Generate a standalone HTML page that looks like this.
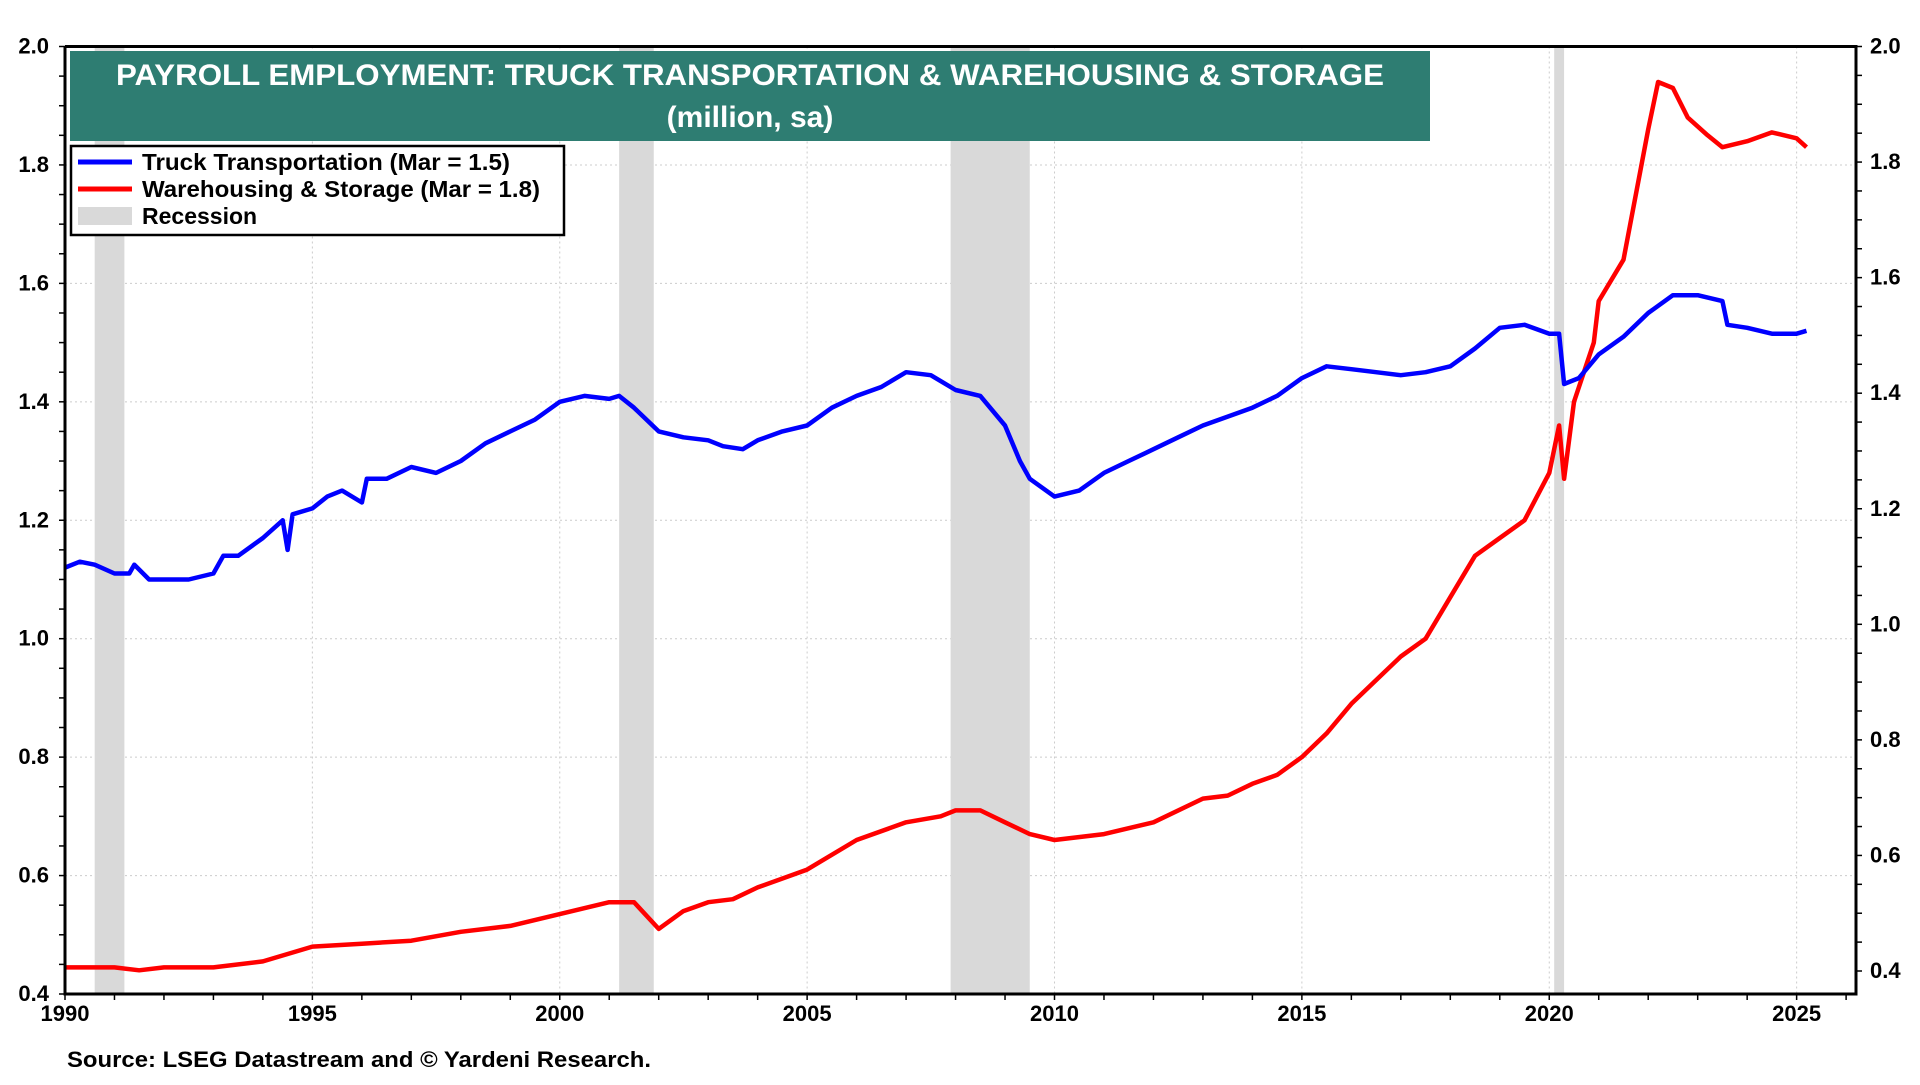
<!DOCTYPE html>
<html><head><meta charset="utf-8"><style>
html,body{margin:0;padding:0;background:#fff;}
svg text{font-family:"Liberation Sans",Arial,sans-serif;font-weight:bold;}
</style></head><body>
<svg id="chart" width="1920" height="1080" viewBox="0 0 1920 1080" xmlns="http://www.w3.org/2000/svg">
<g id="grid"></g>
<g id="recessions"></g>
<g id="series"></g>
<g id="axes"></g>
<rect x="70" y="51" width="1360" height="90" fill="#2e7d72"/>
<text x="750" y="85" text-anchor="middle" fill="#fff" font-size="30" textLength="1268" lengthAdjust="spacingAndGlyphs">PAYROLL EMPLOYMENT:  TRUCK TRANSPORTATION &amp; WAREHOUSING &amp; STORAGE</text>
<text x="750" y="127" text-anchor="middle" fill="#fff" font-size="30">(million, sa)</text>
<g>
<rect x="71" y="146" width="493" height="89" fill="#fff" stroke="#000" stroke-width="2.5"/>
<line x1="78" y1="162" x2="132" y2="162" stroke="#0000ff" stroke-width="5"/>
<text x="142" y="170" font-size="23" textLength="368" lengthAdjust="spacingAndGlyphs">Truck Transportation (Mar = 1.5)</text>
<line x1="78" y1="189" x2="132" y2="189" stroke="#ff0000" stroke-width="5"/>
<text x="142" y="197" font-size="23" textLength="398" lengthAdjust="spacingAndGlyphs">Warehousing &amp; Storage (Mar = 1.8)</text>
<rect x="78" y="207" width="54" height="18" fill="#d9d9d9"/>
<text x="142" y="224" font-size="23">Recession</text>
</g>
<text x="67" y="1067" font-size="22" textLength="584" lengthAdjust="spacingAndGlyphs">Source: LSEG Datastream and © Yardeni Research.</text>
</svg>
<script>
const truckYears=[1990,1990.3,1990.6,1991,1991.3,1991.4,1991.7,1992,1992.5,1993,1993.2,1993.5,1994,1994.4,1994.5,1994.6,1995,1995.3,1995.6,1996,1996.1,1996.5,1997,1997.5,1998,1998.5,1999,1999.5,2000,2000.5,2001,2001.2,2001.5,2002,2002.5,2003,2003.3,2003.7,2004,2004.5,2005,2005.5,2006,2006.5,2007,2007.5,2008,2008.5,2009,2009.3,2009.5,2010,2010.5,2011,2011.5,2012,2012.5,2013,2013.5,2014,2014.5,2015,2015.5,2016,2016.5,2017,2017.5,2018,2018.5,2019,2019.5,2020,2020.2,2020.3,2020.6,2021,2021.5,2022,2022.5,2023,2023.5,2023.6,2024,2024.5,2025,2025.2];
const truckValues=[1.12,1.13,1.125,1.11,1.11,1.125,1.10,1.10,1.10,1.11,1.14,1.14,1.17,1.20,1.15,1.21,1.22,1.24,1.25,1.23,1.27,1.27,1.29,1.28,1.30,1.33,1.35,1.37,1.40,1.41,1.405,1.41,1.39,1.35,1.34,1.335,1.325,1.32,1.335,1.35,1.36,1.39,1.41,1.425,1.45,1.445,1.42,1.41,1.36,1.30,1.27,1.24,1.25,1.28,1.30,1.32,1.34,1.36,1.375,1.39,1.41,1.44,1.46,1.455,1.45,1.445,1.45,1.46,1.49,1.525,1.53,1.515,1.515,1.43,1.44,1.48,1.51,1.55,1.58,1.58,1.57,1.53,1.525,1.515,1.515,1.52];
const whYears=[1990,1991,1991.5,1992,1993,1994,1995,1996,1997,1998,1999,2000,2001,2001.5,2002,2002.5,2003,2003.5,2004,2005,2006,2007,2007.7,2008,2008.5,2009,2009.5,2010,2011,2012,2013,2013.5,2014,2014.5,2015,2015.5,2016,2016.5,2017,2017.5,2018,2018.5,2019,2019.5,2020,2020.2,2020.3,2020.5,2020.9,2021,2021.5,2022,2022.2,2022.5,2022.8,2023.2,2023.5,2024,2024.5,2025,2025.2];
const whValues=[0.445,0.445,0.44,0.445,0.445,0.455,0.48,0.485,0.49,0.505,0.515,0.535,0.555,0.555,0.51,0.54,0.555,0.56,0.58,0.61,0.66,0.69,0.70,0.71,0.71,0.69,0.67,0.66,0.67,0.69,0.73,0.735,0.755,0.77,0.80,0.84,0.89,0.93,0.97,1.00,1.07,1.14,1.17,1.20,1.28,1.36,1.27,1.40,1.50,1.57,1.64,1.86,1.94,1.93,1.88,1.85,1.83,1.84,1.855,1.845,1.83];
const recStart=[1990.6,2001.2,2007.9,2020.1];
const recEnd=[1991.2,2001.9,2009.5,2020.3];
const leftTicks=[0.4,0.6,0.8,1.0,1.2,1.4,1.6,1.8,2.0];
const rightTicks=[0.4,0.6,0.8,1.0,1.2,1.4,1.6,1.8,2.0];
const xTicks=[1990,1995,2000,2005,2010,2015,2020,2025];

const L=65,R=1856,T=46.5,B=994;
const X0=1990,X1=2026.2;
const x=v=>L+(v-X0)/(X1-X0)*(R-L);
const y=v=>T+(2.0-v)/1.6*(B-T);
const yR=v=>T+(2.0-v)/1.6*(971-T);
const NS="http://www.w3.org/2000/svg";
function mk(tag,parent,attrs){const e=document.createElementNS(NS,tag);for(const k in attrs)e.setAttribute(k,attrs[k]);document.getElementById(parent).appendChild(e);return e;}

leftTicks.forEach(v=>{
 const g=mk('line','grid',{x1:L,x2:R,y1:y(v),y2:y(v),stroke:'#ccc','stroke-width':1,'stroke-dasharray':'2,3'});
 
 
});
xTicks.forEach(v=>{
 const g=mk('line','grid',{x1:x(v),x2:x(v),y1:T,y2:B,stroke:'#ccc','stroke-width':1,'stroke-dasharray':'2,3'});
 
 
});
recStart.forEach((s,i)=>{
 const r=mk('rect','recessions',{x:x(s),y:T,width:x(recEnd[i])-x(s),height:B-T,fill:'#d9d9d9'});
 
 
});
function line(xs,vs,color,name){
 const d=xs.map((v,i)=>(i?'L':'M')+x(v).toFixed(1)+','+y(vs[i]).toFixed(1)).join('');
 const p=mk('path','series',{d:d,fill:'none',stroke:color,'stroke-width':4.5,'stroke-linejoin':'round'});
 
 
}
line(whYears,whValues,'#ff0000','warehousing-line');
line(truckYears,truckValues,'#0000ff','truck-line');

const frame=mk('path','axes',{d:`M${L},${T}L${L},${B}L${R},${B}L${R},${T}L${L},${T}`,fill:'none',stroke:'#000','stroke-width':3});


for(let v=0.4;v<=2.0001;v+=0.05){
 const t=mk('line','axes',{x1:L-6,x2:L,y1:y(v),y2:y(v),stroke:'#000','stroke-width':1.5});
 
 
 const t2=mk('line','axes',{x1:R,x2:R+6,y1:yR(v),y2:yR(v),stroke:'#000','stroke-width':1.5});
 
 
}
for(let yr=1990;yr<=2026;yr++){
 const t=mk('line','axes',{x1:x(yr),x2:x(yr),y1:B,y2:B+6,stroke:'#000','stroke-width':1.5});
 
 
}
leftTicks.forEach(v=>{
 const t=mk('text','axes',{x:L-16,y:y(v)+7,'text-anchor':'end','font-size':22});
 t.textContent=v.toFixed(1);
 
 
});
rightTicks.forEach(v=>{
 const t=mk('text','axes',{x:R+14,y:yR(v)+7,'text-anchor':'start','font-size':22});
 t.textContent=v.toFixed(1);
 
 
});
xTicks.forEach(v=>{
 const t=mk('text','axes',{x:x(v),y:B+27,'text-anchor':'middle','font-size':22});
 t.textContent=v;
 
 
});
</script>
</body></html>
